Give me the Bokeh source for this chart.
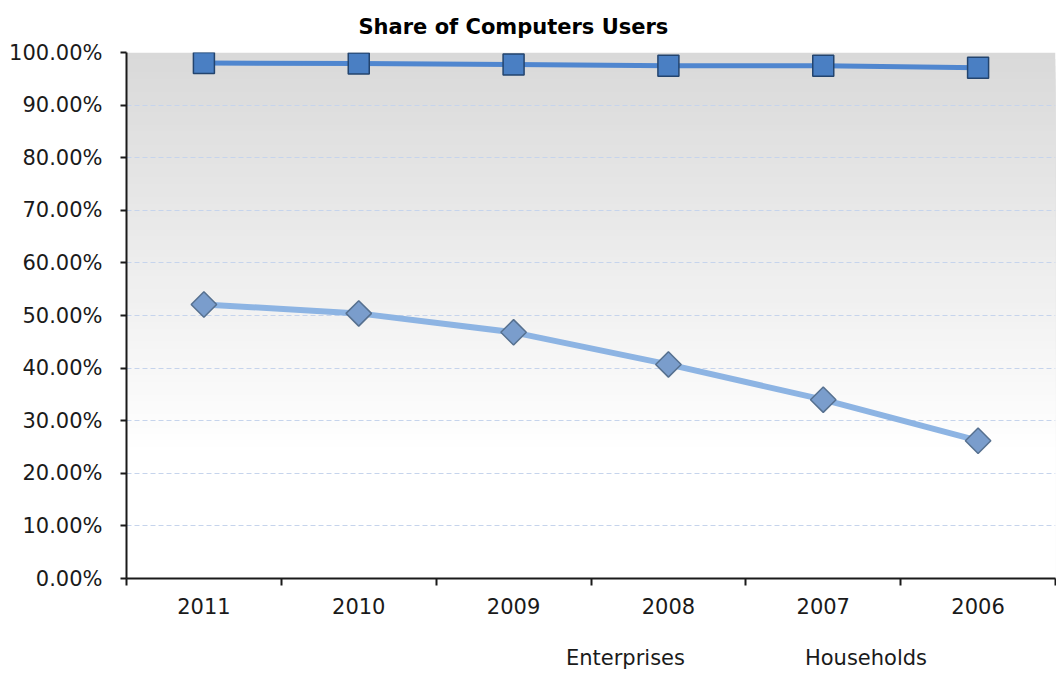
from bokeh.plotting import figure
from bokeh.layouts import column
from bokeh.models import (Range1d, FixedTicker, NumeralTickFormatter, BoxAnnotation,
                          Legend, LegendItem)
from bokeh.embed import file_html
from bokeh.resources import INLINE
import math

years = ["2011", "2010", "2009", "2008", "2007", "2006"]
enterprises = [0.980, 0.979, 0.977, 0.975, 0.975, 0.971]
households = [0.521, 0.504, 0.468, 0.407, 0.340, 0.262]
y_ticks = [0.0, 0.1, 0.2, 0.3, 0.4, 0.5, 0.6, 0.7, 0.8, 0.9, 1.0]
title_text = "Share of Computers Users"
series_names = ["Enterprises", "Households"]

FONT = "DejaVu Sans"

E_LINE = dict(line_color="#4f86cf", line_width=5)
E_MARK = dict(marker="square", size=21, fill_color="#4a7fc3", line_color="#23446e", line_width=1.5)
H_LINE = dict(line_color="#8db4e3", line_width=6)
H_MARK = dict(marker="square", angle=math.pi / 4, size=18, fill_color="#7a9dcc",
              line_color="#56708f", line_width=1.5)

# category slots: each year occupies one unit, centred at i + 0.5
xpos = [i + 0.5 for i in range(len(years))]
bounds = list(range(len(years) + 1))

p = figure(frame_width=929, frame_height=526, x_range=Range1d(0, len(years)), y_range=Range1d(0, 1),
           output_backend="svg", toolbar_location=None,
           min_border_left=126, min_border_right=1, min_border_top=52, min_border_bottom=63)
p.outline_line_color = None
p.background_fill_color = "white"
p.border_fill_color = "white"

# gradient background (grey at top -> white lower down)
n = 80
for i in range(n):
    t = 1.0 - i / n
    frac = max(0.0, (t - 0.25) / 0.75)
    c = int(round(255 - 38 * frac))
    col = "#%02x%02x%02x" % (c, c, c)
    p.add_layout(BoxAnnotation(bottom=0, top=t, fill_color=col, fill_alpha=1.0,
                               line_color=None, level="image"))

# title
p.title.text = title_text
p.title.text_font = FONT
p.title.text_font_style = "bold"
p.title.text_font_size = "21px"
p.title.align = "left"
p.title.offset = 232
p.title.standoff = 24
p.title.vertical_align = "top"
p.title.text_color = "black"

# y axis
p.yaxis.ticker = FixedTicker(ticks=y_ticks)
p.yaxis.formatter = NumeralTickFormatter(format="0.00%")
p.yaxis.major_label_text_font = FONT
p.yaxis.major_label_text_font_size = "21px"
p.yaxis.major_label_text_color = "#1a1a1a"
p.yaxis.axis_line_color = "#1a1a1a"
p.yaxis.axis_line_width = 2
p.yaxis.major_tick_line_color = "#1a1a1a"
p.yaxis.major_tick_line_width = 2
p.yaxis.major_tick_out = 6
p.yaxis.major_tick_in = 0
p.yaxis.minor_tick_line_color = None
p.yaxis.major_label_standoff = 18

p.ygrid.ticker = FixedTicker(ticks=y_ticks[1:])
p.ygrid.grid_line_color = "#c6d4ec"
p.ygrid.grid_line_dash = "5 3"
p.ygrid.grid_line_width = 1
p.xgrid.grid_line_color = None

# x axis: labels at slot centres, tick marks at slot boundaries
p.xaxis.ticker = FixedTicker(ticks=xpos, minor_ticks=bounds)
p.xaxis.major_label_overrides = {x: y for x, y in zip(xpos, years)}
p.xaxis.major_tick_line_color = None
p.xaxis.minor_tick_line_color = "#1a1a1a"
p.xaxis.minor_tick_line_width = 2
p.xaxis.minor_tick_out = 7
p.xaxis.minor_tick_in = 0
p.xaxis.major_tick_out = 7
p.xaxis.major_tick_in = 0
p.xaxis.axis_line_color = "#1a1a1a"
p.xaxis.axis_line_width = 2
p.xaxis.major_label_text_font = FONT
p.xaxis.major_label_text_font_size = "21px"
p.xaxis.major_label_text_color = "#1a1a1a"
p.xaxis.major_label_standoff = 12

# series
p.line(xpos, enterprises, **E_LINE)
p.scatter(xpos, enterprises, **E_MARK)
p.line(xpos, households, **H_LINE)
p.scatter(xpos, households, **H_MARK)

# legend strip below the chart (its own small figure, so it is not clipped)
p2 = figure(width=1056, height=32, x_range=Range1d(0, 1), y_range=Range1d(0, 1),
            output_backend="svg", toolbar_location=None, x_axis_location=None,
            y_axis_location=None, title_location=None, min_border=0,
            min_border_left=0, min_border_right=0, min_border_top=0, min_border_bottom=0)
p2.outline_line_color = None
p2.background_fill_color = "white"
p2.border_fill_color = "white"
p2.grid.visible = False

le2 = p2.line(x=[], y=[], **E_LINE)
se2 = p2.scatter(x=[], y=[], **E_MARK)
lh2 = p2.line(x=[], y=[], **H_LINE)
sh2 = p2.scatter(x=[], y=[], **H_MARK)

legend = Legend(items=[LegendItem(label=series_names[0], renderers=[le2, se2]),
                       LegendItem(label=series_names[1], renderers=[lh2, sh2])],
                orientation="horizontal", location=(382, 0),
                glyph_width=54, glyph_height=30, label_standoff=4, spacing=62,
                label_text_font=FONT, label_text_font_size="21px", label_text_color="#1a1a1a",
                border_line_color=None, background_fill_alpha=0, margin=0, padding=1)
p2.add_layout(legend, "center")

layout = column(p, p2)
open("out.html", "w").write(file_html(layout, INLINE))
